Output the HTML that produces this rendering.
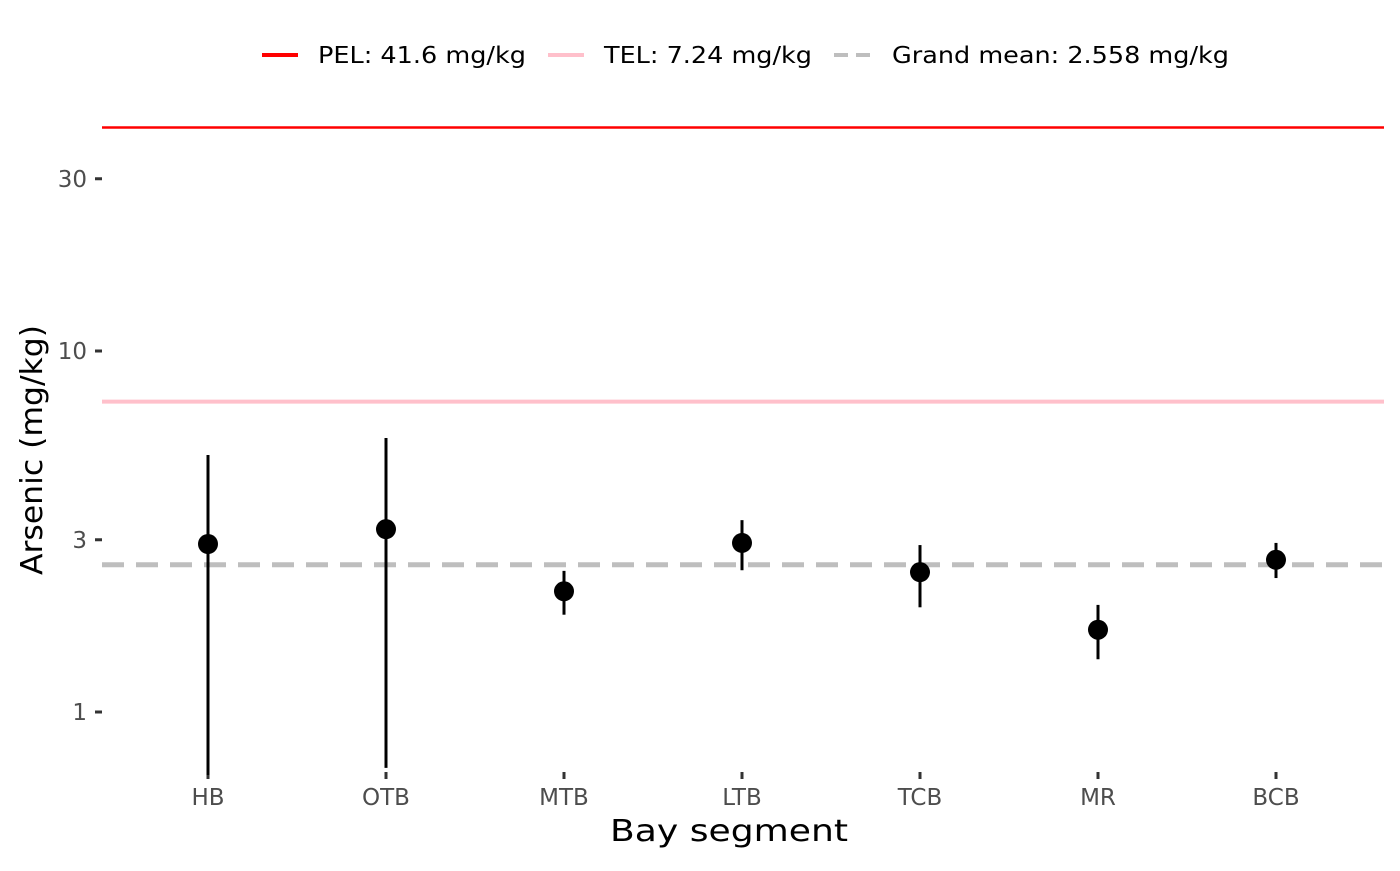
<!DOCTYPE html>
<html><head><meta charset="utf-8"><style>
body{margin:0;background:#fff;font-family:"Liberation Sans","DejaVu Sans",sans-serif}
svg text{font-family:"DejaVu Sans","Liberation Sans",sans-serif}
</style></head><body>
<svg id="chart" width="1400" height="866" viewBox="0 0 1400 866" xmlns="http://www.w3.org/2000/svg">
<g id="legend">
 <g><line x1="262" y1="55" x2="298" y2="55" stroke="#ff0000" stroke-width="4"/><text x="318" y="63" font-size="23" textLength="208" lengthAdjust="spacingAndGlyphs" fill="#000">PEL: 41.6 mg/kg</text></g>
 <g><line x1="548" y1="55" x2="584" y2="55" stroke="#ffc0cb" stroke-width="4"/><text x="604" y="63" font-size="23" textLength="208" lengthAdjust="spacingAndGlyphs" fill="#000">TEL: 7.24 mg/kg</text></g>
 <g><line x1="834" y1="55" x2="870" y2="55" stroke="#bebebe" stroke-width="4" stroke-dasharray="14,8"/><text x="892" y="63" font-size="23" textLength="337" lengthAdjust="spacingAndGlyphs" fill="#000">Grand mean: 2.558 mg/kg</text></g>
</g>
<g id="plot"></g>
<text transform="translate(42,450) rotate(-90)" text-anchor="middle" font-size="30" textLength="250" lengthAdjust="spacingAndGlyphs" fill="#000">Arsenic (mg/kg)</text>
<text x="729" y="841" text-anchor="middle" font-size="30" textLength="238" lengthAdjust="spacingAndGlyphs" fill="#000">Bay segment</text>
</svg>
<script>
const categories=["HB","OTB","MTB","LTB","TCB","MR","BCB"];
const means=[2.92,3.21,2.16,2.94,2.44,1.69,2.64];
const lowers=[0.669,0.70,1.86,2.47,1.95,1.40,2.35];
const uppers=[5.15,5.74,2.46,3.40,2.90,1.98,2.94];
const yTicks=[1,3,10,30];
const refValues=[41.6,7.24,2.558];
const NS="http://www.w3.org/2000/svg";
const g=document.getElementById("plot");
function y(v){return 712-361*Math.log10(v);}
function x(i){return 208+i*178;}
function el(t,a){const e=document.createElementNS(NS,t);for(const k in a)e.setAttribute(k,a[k]);g.appendChild(e);return e;}
yTicks.forEach(v=>{
 const l=el("line",{x1:95,x2:102,y1:y(v),y2:y(v),stroke:"#333","stroke-width":3});
 
 
 const t=el("text",{x:87,y:y(v)+8,"text-anchor":"end","font-size":23,fill:"#4d4d4d"});t.textContent=v;
 
 
});
const pel=el("line",{x1:102,x2:1384,y1:y(refValues[0]),y2:y(refValues[0]),stroke:"#ff0000","stroke-width":2.5});


const tel=el("line",{x1:102,x2:1384,y1:y(refValues[1]),y2:y(refValues[1]),stroke:"#ffc0cb","stroke-width":4});


const gm=el("line",{x1:102,x2:1384,y1:y(refValues[2]),y2:y(refValues[2]),stroke:"#bebebe","stroke-width":5,"stroke-dasharray":"22,12"});


categories.forEach((c,i)=>{
 const tk=el("line",{x1:x(i),x2:x(i),y1:772,y2:779,stroke:"#333","stroke-width":3});
 
 
 const t=el("text",{x:x(i),y:805,"text-anchor":"middle","font-size":23,fill:"#4d4d4d"});t.textContent=c;
 
 
 const eb=el("line",{x1:x(i),x2:x(i),y1:y(uppers[i]),y2:y(lowers[i]),stroke:"#000","stroke-width":3});
 
 
 const p=el("circle",{cx:x(i),cy:y(means[i]),r:10,fill:"#000"});
 
 
});
</script>
</body></html>
